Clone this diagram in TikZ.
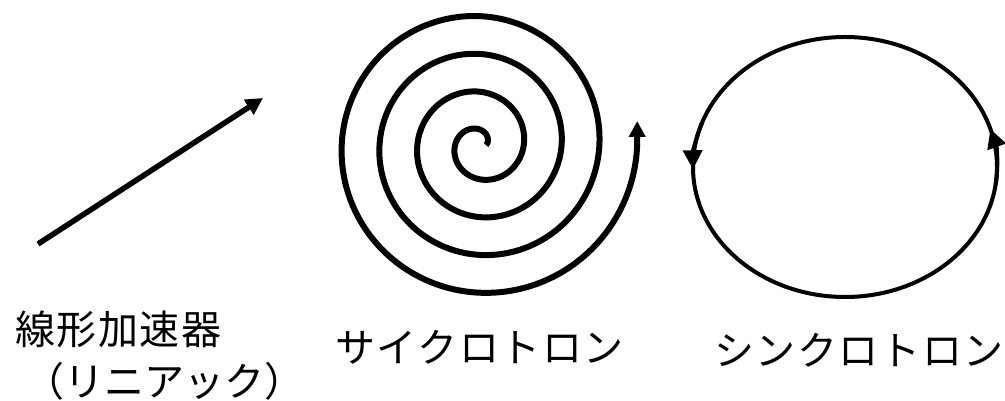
\documentclass[tikz,border=0pt]{standalone}
\usepackage{fontspec}
\newfontfamily\jpfont[LetterSpace=4]{Noto Sans CJK JP}
\newfontfamily\jpfontnarrow{Noto Sans CJK JP}
\usetikzlibrary{arrows.meta}

\begin{document}
\begin{tikzpicture}[x=1pt, y=1pt,
  lbl/.style={font=\jpfont\fontsize{40}{45}\selectfont, inner sep=0pt,
              anchor=base west},
  beam/.style={line width=#1, line cap=butt},
  tip/.style={-{Triangle[length=#1, width=#1]}},
]
\useasboundingbox (0,0) rectangle (1005,401);

% linear accelerator
\coordinate (lin0) at (38,157);
\coordinate (lin1) at (263,303);
\draw[beam=5.5pt, tip=17pt] (lin0) -- (lin1);

% cyclotron
\coordinate (cyc) at (480,256);
\draw[beam=6pt, tip=16pt, shift={(cyc)}]
  plot[domain=0:1440, samples=360, smooth] (\x:{6+0.105*\x}) -- ++(0,24);

% synchrotron
\coordinate (syn) at (845,234);
\draw[beam=4pt] (syn) ellipse [x radius=152, y radius=130];
\draw[beam=4pt, tip=19pt] ([shift={(syn)}]-8:152 and 130)
  arc[start angle=-8, end angle=17, x radius=152, y radius=130];
\draw[beam=4pt, tip=19pt] ([shift={(syn)}]160:152 and 130)
  arc[start angle=160, end angle=181, x radius=152, y radius=130];

\node[lbl] (linac)    at (15,56)  {線形加速器};
\node[lbl, font=\jpfontnarrow\fontsize{40}{45}\selectfont]
           (linacsub) at (24,4)   {（リニアック）};
\node[lbl] (cyclo)    at (335,38) {サイクロトロン};
\node[lbl] (synchro)  at (714,35) {シンクロトロン};
\end{tikzpicture}
\end{document}
